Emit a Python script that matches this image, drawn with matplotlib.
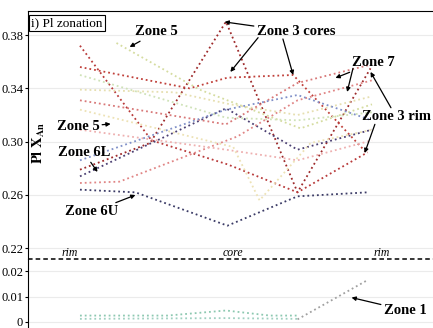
import matplotlib.pyplot as plt
from matplotlib.lines import Line2D

plt.rcParams['font.family'] = ['Liberation Serif', 'DejaVu Serif']
plt.rcParams['mathtext.fontset'] = 'stix'

# profile positions: 0 = rim, 1 = core, 2 = rim
z3core_x = [0, 0.48, 1.0, 1.49, 1.99]
z3core_y = [0.279, 0.299, 0.390, 0.262, 0.355]
z3rim_x = [0, 0.75, 1.01, 1.46, 1.96]
z3rim_y = [0.356, 0.340, 0.348, 0.350, 0.292]
z3b_x = [0, 0.49, 1.01, 1.49, 1.97]
z3b_y = [0.372, 0.301, 0.283, 0.262, 0.292]
z6l_x = [0, 1.0, 1.49, 2.0]
z6l_y = [0.274, 0.325, 0.294, 0.309]
z6l_b_x = [0, 0.27, 1.08, 1.49, 2.0]
z6l_b_y = [0.269, 0.270, 0.304, 0.331, 0.346]
z6u_x = [0, 0.38, 1.01, 1.49, 1.97]
z6u_y = [0.264, 0.262, 0.237, 0.259, 0.262]
z5_x = [0.25, 0.82, 1.51, 2.0]
z5_y = [0.374, 0.339, 0.310, 0.328]
z5b_x = [0, 0.65, 1.03, 1.49, 2.0]
z5b_y = [0.339, 0.337, 0.328, 0.320, 0.334]
z5c_x = [0, 1.05, 1.23, 1.58, 2.0]
z5c_y = [0.324, 0.296, 0.256, 0.299, 0.309]
z5d_x = [0, 1.0, 1.49, 2.0]
z5d_y = [0.350, 0.318, 0.316, 0.322]
z7_x = [0, 1.0, 1.49, 2.0]
z7_y = [0.331, 0.313, 0.344, 0.358]
z7b_x = [0, 1.0, 1.49, 2.0]
z7b_y = [0.309, 0.294, 0.286, 0.301]
zb_x = [0, 1.0, 1.49, 2.0]
zb_y = [0.286, 0.324, 0.335, 0.316]

# zone 1 (lower panel)
z1a_x = [0, 0.6, 1.0, 1.3, 1.49]
z1a_y = [0.0025, 0.0025, 0.0045, 0.0025, 0.0025]
z1b_x = [0, 1.0, 1.49]
z1b_y = [0.0012, 0.0015, 0.0012]
z1c_x = [1.49, 1.97]
z1c_y = [0.001, 0.0165]

upper_ticks = [0.22, 0.26, 0.30, 0.34, 0.38]
lower_ticks = [0, 0.01, 0.02]
pos_labels = ['rim', 'core', 'rim']
pos_label_x = [-0.07, 1.05, 2.07]

fig = plt.figure(figsize=(4.33, 3.28), dpi=100)
left, width = 28 / 433, 405 / 433
ax = fig.add_axes([left, 69 / 328, width, 248 / 328])
ax2 = fig.add_axes([left, 0, width, 69 / 328])

upper = [
    (z3core_x, z3core_y, '#9e2a2b'),
    (z3rim_x, z3rim_y, '#c0403a'),
    (z3b_x, z3b_y, '#b83a3a'),
    (z6l_x, z6l_y, '#4b3f72'),
    (z6l_b_x, z6l_b_y, '#e08585'),
    (z6u_x, z6u_y, '#3b3b66'),
    (z5_x, z5_y, '#d5dca0'),
    (z5b_x, z5b_y, '#e6dfb0'),
    (z5c_x, z5c_y, '#ede2b5'),
    (z5d_x, z5d_y, '#cfe2b8'),
    (z7_x, z7_y, '#d87878'),
    (z7b_x, z7b_y, '#eeb0b0'),
    (zb_x, zb_y, '#8090c8'),
]
for x, y, c in upper:
    ax.plot(x, y, ls=':', lw=1.3, color=c)

ax2.plot(z1a_x, z1a_y, ls=':', lw=1.3, color='#8cc8b0')
ax2.plot(z1b_x, z1b_y, ls=':', lw=1.3, color='#9fd0c0')
ax2.plot(z1c_x, z1c_y, ls=':', lw=1.3, color='#a0a0a0')

for a in (ax, ax2):
    a.set_xlim(-0.356, 2.418)
    a.set_xticks([])
    a.spines['right'].set_visible(False)
    a.spines['bottom'].set_visible(False)
    a.tick_params(axis='y', direction='out', length=2.5, width=0.8,
                  labelsize=9, pad=1)
    a.grid(axis='y', color='#ebebeb', lw=0.8)
    a.set_axisbelow(True)
ax2.spines['top'].set_visible(False)

ax.set_ylim(0.212, 0.398)
ax.set_yticks(upper_ticks)
ax.set_yticklabels(['%.2f' % t for t in upper_ticks])
ax2.set_ylim(-0.0024, 0.0248)
ax2.set_yticks(lower_ticks)
ax2.set_yticklabels(['0', '0.01', '0.02'])

# broken axis line, drawn on the figure so neither panel covers it
fig.add_artist(Line2D([left, 1], [69 / 328, 69 / 328], transform=fig.transFigure,
                      ls=(0, (3, 2)), color='k', lw=1.1))

for lx, lab in zip(pos_label_x, pos_labels):
    ax.text(lx, 0.2165, lab, style='italic', fontsize=8.5, ha='center', va='center')

ax.text(0.008, 0.975, 'i) Pl zonation', transform=ax.transAxes, fontsize=9.5,
        ha='left', va='top',
        bbox=dict(boxstyle='square,pad=0.15', fc='white', ec='k', lw=0.8))
ax.text(0.027, 0.47, r'$\mathbf{Pl\ X_{An}}$', transform=ax.transAxes,
        rotation=90, fontsize=10.5, ha='center', va='center')

arrow = dict(arrowstyle='-|>', lw=0.9, color='k', mutation_scale=6,
             shrinkA=0, shrinkB=0)
font = dict(fontsize=10.5, fontweight='bold')

ax.annotate('Zone 5', xy=(0.34, 0.371), xytext=(0.38, 0.3823),
            ha='left', va='center', arrowprops=arrow, **font)
ax.annotate('Zone 3 cores', xy=(0.99, 0.3898), xytext=(1.21, 0.3823),
            ha='left', va='center', arrowprops=arrow, **font)
ax.annotate('', xy=(1.03, 0.3523), xytext=(1.22, 0.378), arrowprops=arrow)
ax.annotate('', xy=(1.46, 0.350), xytext=(1.39, 0.377), arrowprops=arrow)
ax.annotate('Zone 7', xy=(1.75, 0.3478), xytext=(1.86, 0.359),
            ha='left', va='center', arrowprops=arrow, **font)
ax.annotate('', xy=(1.83, 0.3373), xytext=(1.87, 0.355), arrowprops=arrow)
ax.annotate('Zone 3 rim', xy=(1.99, 0.3523), xytext=(1.93, 0.3185),
            ha='left', va='center', arrowprops=arrow, **font)
ax.annotate('', xy=(1.95, 0.2915), xytext=(2.02, 0.313), arrowprops=arrow)
ax.annotate('Zone 5', xy=(0.21, 0.3133), xytext=(-0.16, 0.311),
            ha='left', va='center', arrowprops=arrow, **font)
ax.annotate('Zone 6L', xy=(0.12, 0.2773), xytext=(-0.15, 0.2915),
            ha='left', va='center', arrowprops=arrow, **font)
ax.annotate('Zone 6U', xy=(0.38, 0.260), xytext=(-0.10, 0.2473),
            ha='left', va='center', arrowprops=arrow, **font)
ax2.annotate('Zone 1', xy=(1.86, 0.0096), xytext=(2.08, 0.0046),
             ha='left', va='center', arrowprops=arrow, **font)

fig.savefig('out.png', dpi=100)
